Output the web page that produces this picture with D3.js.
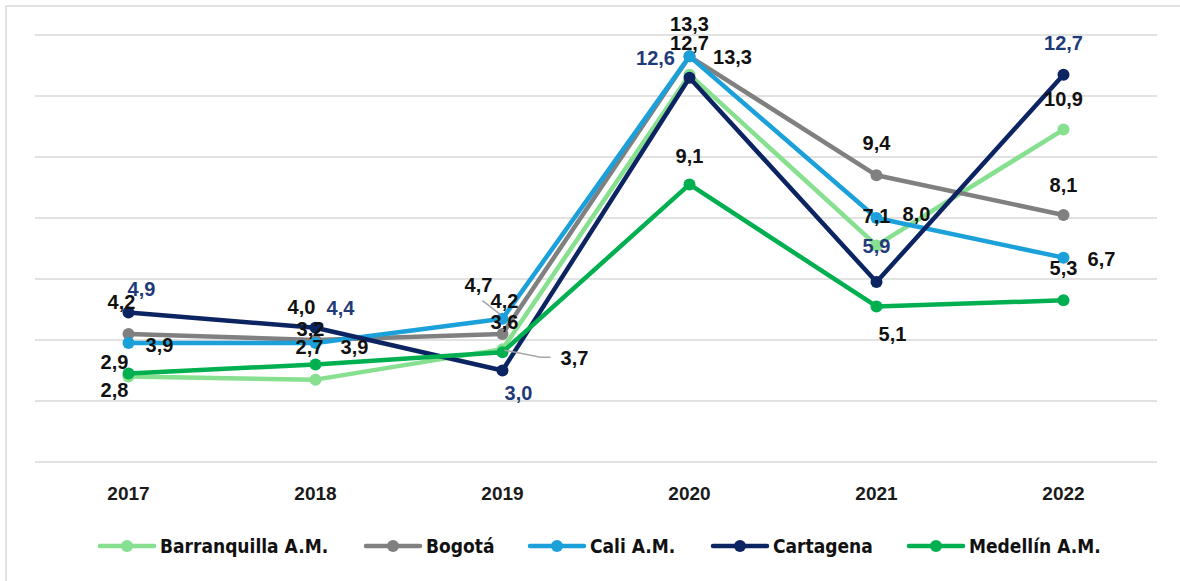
<!DOCTYPE html>
<html>
<head>
<meta charset="utf-8">
<script src="https://cdn.jsdelivr.net/npm/d3@7"></script>
<style>
  body { margin: 0; background: #fff; }
  svg { display: block; }
</style>
</head>
<body>
<div class="chart"></div>
<script>
// --- Data ---
const years = ["2017", "2018", "2019", "2020", "2021", "2022"];
const cities = ["Barranquilla A.M.", "Bogotá", "Cali A.M.", "Cartagena", "Medellín A.M."];
const barranquilla = [2.8, 2.7, 3.7, 12.7, 7.1, 10.9];
const bogota = [4.2, 4.0, 4.2, 13.3, 9.4, 8.1];
const cali = [3.9, 3.9, 4.7, 13.3, 8.0, 6.7];
const cartagena = [4.9, 4.4, 3.0, 12.6, 5.9, 12.7];
const medellin = [2.9, 3.2, 3.6, 9.1, 5.1, 5.3];
const yTicks = [0, 2, 4, 6, 8, 10, 12, 14];

const seriesValues = [barranquilla, bogota, cali, cartagena, medellin];
const colors = ["#86e08f", "#808080", "#1ca0da", "#0c2461", "#00b050"];

// label nudges (px) per series / year, to mimic the original placement
const labelNudge = [
    [[-14, 13], [-6, -33], [72, 9], [0, -32], [0, -30], [0, -31]],
    [[-7, -32], [-14, -33], [2, -33], [0, -33], [0, -33], [0, -30]],
    [[31, 2], [39, 4], [-24, -34], [43, 0], [40, -4], [38, 1]],
    [[13, -24], [25, -20], [16, 22], [-34, -20], [0, -36], [0, -32]],
    [[-14, -12], [-5, -36], [2, -30], [0, -29], [16, 27], [0, -33]]
];

const W = 1180, H = 581;
const svg = d3.select(".chart").append("svg")
    .attr("width", W)
    .attr("height", H);

// outer frame
svg.append("rect")
    .attr("x", 6).attr("y", 6)
    .attr("width", W + 10).attr("height", H + 10)
    .attr("fill", "none")
    .attr("stroke", "#d9d9d9")
    .attr("stroke-width", 1.5);

// --- Scales ---
const xScale = d3.scaleBand()
    .domain(years)
    .range([35, 1157]);

const yScale = d3.scaleLinear()
    .domain([0, 14])
    .range([462, 35]);

const xc = d => xScale(d) + xScale.bandwidth() / 2;

// gridlines
svg.append("g")
    .selectAll("line")
    .data(yTicks)
    .join("line")
    .attr("x1", 35).attr("x2", 1157)
    .attr("y1", d => yScale(d)).attr("y2", d => yScale(d))
    .attr("stroke", "#d9d9d9")
    .attr("stroke-width", 1.5);

// year labels
svg.append("g")
    .selectAll("text")
    .data(years)
    .join("text")
    .attr("x", d => xc(d))
    .attr("y", 500)
    .attr("text-anchor", "middle")
    .style("font-family", "'Liberation Sans', Arial, sans-serif")
    .style("font-weight", "bold")
    .style("font-size", "19px")
    .style("fill", "#1a1a1a")
    .text(d => d);

const line = d3.line()
    .x((d, i) => xc(years[i]))
    .y(d => yScale(d));

// --- Lines + markers ---
const series = svg.append("g")
    .selectAll("g")
    .data(seriesValues)
    .join("g");

series.append("path")
    .attr("d", d => line(d))
    .attr("fill", "none")
    .attr("stroke", (d, i) => colors[i])
    .attr("stroke-width", 4.5)
    .attr("stroke-linejoin", "round");

series.each(function (vals, si) {
    d3.select(this).selectAll("circle")
        .data(vals)
        .join("circle")
        .attr("cx", (d, i) => xc(years[i]))
        .attr("cy", d => yScale(d))
        .attr("r", 6)
        .attr("fill", colors[si]);
});

// leader lines (2019 labels)
const leaders = svg.append("g")
    .attr("stroke", "#a6a6a6")
    .attr("stroke-width", 1.5)
    .attr("fill", "none");
leaders.append("path")
    .attr("d", `M${xc("2019") + 2},${yScale(barranquilla[2]) + 1} L${xc("2019") + 38},${yScale(barranquilla[2]) + 8} L${xc("2019") + 48},${yScale(barranquilla[2]) + 8}`);
leaders.append("path")
    .attr("d", `M${xc("2019") - 20},${yScale(cali[2]) - 18} L${xc("2019") - 2},${yScale(cali[2]) - 4}`);

// --- Data labels ---
const fmt = v => d3.format(".1f")(v).replace(".", ",");
const labels = svg.append("g");
seriesValues.forEach((vals, si) => {
    labels.selectAll(null)
        .data(vals)
        .join("text")
        .attr("x", (d, i) => xc(years[i]) + labelNudge[si][i][0])
        .attr("y", (d, i) => yScale(d) + labelNudge[si][i][1])
        .attr("dy", "0.36em")
        .attr("text-anchor", "middle")
        .style("font-family", "'Liberation Sans', Arial, sans-serif")
        .style("font-weight", "bold")
        .style("font-size", "20px")
        .style("fill", si === 3 ? "#1f3a78" : "#111")
        .text(d => fmt(d));
});

// --- Legend ---
const legendX = [100, 366, 530, 713, 909];
const legend = svg.append("g")
    .selectAll("g")
    .data(cities)
    .join("g")
    .attr("transform", (d, i) => `translate(${legendX[i]}, 546)`);

legend.append("line")
    .attr("x1", 0).attr("x2", 54)
    .attr("stroke", (d, i) => colors[i])
    .attr("stroke-width", 4.5)
    .attr("stroke-linecap", "round");

legend.append("circle")
    .attr("cx", 27)
    .attr("r", 6)
    .attr("fill", (d, i) => colors[i]);

legend.append("text")
    .attr("x", 60)
    .attr("dy", "0.36em")
    .style("font-family", "'DejaVu Sans', sans-serif")
    .style("font-stretch", "condensed")
    .style("font-weight", "bold")
    .style("font-size", "19px")
    .style("fill", "#111")
    .text(d => d);
</script>
</body>
</html>
